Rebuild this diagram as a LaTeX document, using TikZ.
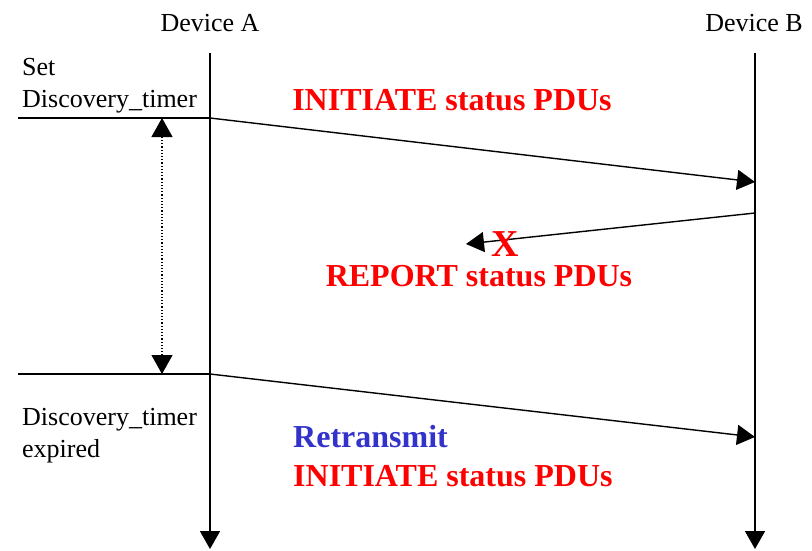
\documentclass[tikz,border=0pt]{standalone}
\usepackage{fontspec}
\setmainfont{Liberation Serif}
\usetikzlibrary{arrows.meta}
\definecolor{pdured}{RGB}{255,0,0}
\definecolor{pdublue}{RGB}{51,51,204}
\begin{document}
\begin{tikzpicture}[x=1pt,y=-1pt,
  lbl/.style={inner sep=0pt,font=\fontsize{26}{30}\selectfont},
  pdu/.style={inner sep=0pt,font=\fontsize{32}{36}\selectfont\bfseries,text=pdured},
  life/.style={line width=1.6pt,-{Triangle[length=18pt,width=20pt]}},
  msg/.style={line width=1.4pt,-{Triangle[length=18pt,width=20pt]}},
  tline/.style={line width=1.4pt},
  span/.style={line width=1.2pt,dotted,{Triangle[length=19pt,width=21pt]}-{Triangle[length=19pt,width=21pt]}}]
\useasboundingbox (0,0) rectangle (812,550);
% lifelines
\coordinate (atop) at (210,53);
\coordinate (abot) at (210,549);
\coordinate (btop) at (755,53);
\coordinate (bbot) at (755,549);
\draw[life] (atop) -- (abot);
\draw[life] (btop) -- (bbot);
% labels
\node[lbl,anchor=base] (devA) at (210,31) {Device A};
\node[lbl,anchor=base east] (devB) at (803,31) {Device B};
\node[lbl,anchor=base west] (set1) at (22,75) {Set};
\node[lbl,anchor=base west] (set2) at (22,107) {Discovery\_timer};
\node[lbl,anchor=base west] (exp1) at (22,425) {Discovery\_timer};
\node[lbl,anchor=base west] (exp2) at (22,457) {expired};
% timer lines
\coordinate (t1l) at (18,118);
\coordinate (t1r) at (210,118);
\coordinate (t2l) at (18,374);
\coordinate (t2r) at (210,374);
\draw[tline] (t1l) -- (t1r);
\draw[tline] (t2l) -- (t2r);
\coordinate (d1) at (162,118);
\coordinate (d2) at (162,374);
\draw[span] (d1) -- (d2);
% messages
\coordinate (m1b) at (755,182);
\draw[msg] (t1r) -- (m1b);
\coordinate (m2a) at (755,213);
\coordinate (m2b) at (466,244);
\draw[msg] (m2a) -- (m2b);
\coordinate (m3b) at (755,437);
\draw[msg] (t2r) -- (m3b);
% texts
\node[pdu,anchor=base] (ini1) at (452,110) {INITIATE status PDUs};
\node[pdu,anchor=base] (rep) at (479,286) {REPORT status PDUs};
\node[inner sep=0pt,font=\fontsize{38}{40}\selectfont\bfseries,text=pdured,anchor=base] (x) at (505,256) {X};
\node[pdu,anchor=base west,text=pdublue] (retx) at (293,447) {Retransmit};
\node[pdu,anchor=base west] (ini2) at (293,486) {INITIATE status PDUs};
\end{tikzpicture}
\end{document}
